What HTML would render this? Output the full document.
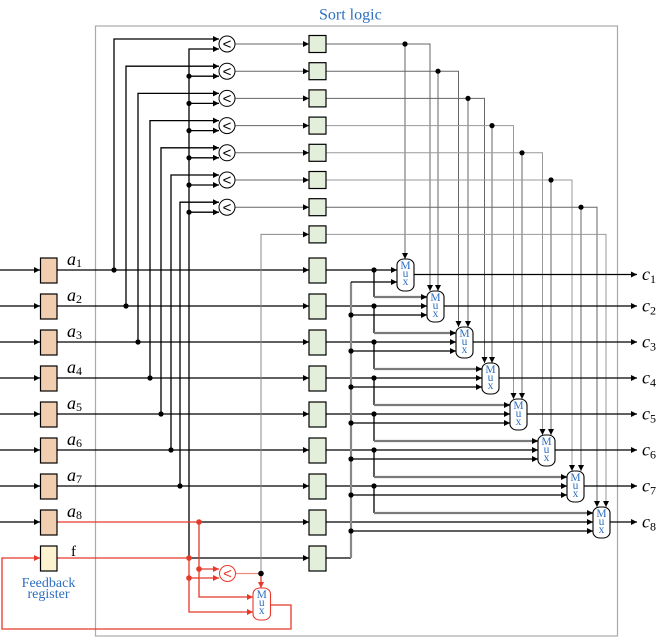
<!DOCTYPE html>
<html><head><meta charset="utf-8"><style>
html,body{margin:0;padding:0;background:#fff;}
svg{display:block;}
.bk{stroke:#000;stroke-width:1.3;fill:none;}
.gr{stroke:#666;stroke-width:1;fill:none;}
.lg{stroke:#aaa;stroke-width:1.2;fill:none;}
.gt{stroke:#7a7a7a;stroke-width:2.2;fill:none;}
.rd{stroke:#e5392a;stroke-width:1.3;fill:none;}
.rl{stroke:#f08a80;stroke-width:1.3;fill:none;}
.ob{fill:#f2ceb0;stroke:#000;stroke-width:1.2;}
.gb{fill:#e3efda;stroke:#000;stroke-width:1.2;}
.mx{fill:#fff;stroke:#000;stroke-width:1.1;}
.mt{font-family:"Liberation Serif",serif;font-size:11.5px;fill:#2e6fc0;text-anchor:middle;}
.lbl{font-family:"Liberation Serif",serif;font-style:italic;font-size:18px;fill:#000;}
.sub{font-family:"Liberation Serif",serif;font-style:normal;font-size:12px;}
.lt{font-family:"Liberation Sans",sans-serif;font-size:15px;text-anchor:middle;}
</style></head><body>
<svg width="665" height="639" viewBox="0 0 665 639" xmlns="http://www.w3.org/2000/svg">
<defs>
<marker id="ab" viewBox="0 0 6 6" refX="6" refY="3" markerWidth="6" markerHeight="6" markerUnits="userSpaceOnUse" orient="auto"><path d="M0,0L6,3L0,6z" fill="#000"/></marker>
<marker id="ar" viewBox="0 0 6 6" refX="6" refY="3" markerWidth="6" markerHeight="6" markerUnits="userSpaceOnUse" orient="auto"><path d="M0,0L6,3L0,6z" fill="#e5392a"/></marker>
</defs>

<!-- outer box -->
<rect x="95.5" y="26" width="522" height="610" fill="none" stroke="#aaa" stroke-width="1.2"/>
<text x="319" y="19.5" font-family="Liberation Serif,serif" font-size="16" fill="#2e6fc0">Sort logic</text>

<!-- input lines -->
<g class="bk" marker-end="url(#ab)">
<path d="M0,270H40"/><path d="M0,306H40"/><path d="M0,342H40"/><path d="M0,378H40"/>
<path d="M0,414H40"/><path d="M0,450H40"/><path d="M0,486H40"/><path d="M0,522H40"/>
<path d="M57,270H309"/><path d="M57,306H309"/><path d="M57,342H309"/><path d="M57,378H309"/>
<path d="M57,414H309"/><path d="M57,450H309"/><path d="M57,486H309"/>
<path d="M199,522H309"/><path d="M189,558H309"/>
</g>

<!-- left verticals to comparators -->
<g class="bk" marker-end="url(#ab)">
<path d="M114,270V39H219"/>
<path d="M126,306V66.2H219"/>
<path d="M138,342V93.4H219"/>
<path d="M150,378V120.6H219"/>
<path d="M161,414V147.8H219"/>
<path d="M171,450V175H219"/>
<path d="M180,486V202.2H219"/>
<path d="M189,558V49H219"/>
<path d="M189,76.2H219"/><path d="M189,103.4H219"/><path d="M189,130.6H219"/>
<path d="M189,157.8H219"/><path d="M189,185H219"/><path d="M189,212.2H219"/>
</g>
<g fill="#000">
<circle cx="114" cy="270" r="2.6"/><circle cx="126" cy="306" r="2.6"/><circle cx="138" cy="342" r="2.6"/>
<circle cx="150" cy="378" r="2.6"/><circle cx="161" cy="414" r="2.6"/><circle cx="171" cy="450" r="2.6"/>
<circle cx="180" cy="486" r="2.6"/>
<circle cx="189" cy="76.2" r="2.6"/><circle cx="189" cy="103.4" r="2.6"/><circle cx="189" cy="130.6" r="2.6"/>
<circle cx="189" cy="157.8" r="2.6"/><circle cx="189" cy="185" r="2.6"/><circle cx="189" cy="212.2" r="2.6"/>
</g>

<!-- comparator outputs -->
<g class="gr" marker-end="url(#ab)" stroke="#555">
<path d="M235,44H309"/><path d="M235,71.2H309"/><path d="M235,98.4H309"/><path d="M235,125.6H309"/>
<path d="M235,152.8H309"/><path d="M235,180H309"/><path d="M235,207.2H309"/>
<path d="M261,573.5V234.4H309" stroke="#888"/>
</g>

<!-- comparators -->
<g fill="#fff" stroke="#000" stroke-width="1">
<circle cx="227" cy="44" r="8"/>
<circle cx="227" cy="71.2" r="8"/>
<circle cx="227" cy="98.4" r="8"/>
<circle cx="227" cy="125.6" r="8"/>
<circle cx="227" cy="152.8" r="8"/>
<circle cx="227" cy="180" r="8"/>
<circle cx="227" cy="207.2" r="8"/>
</g>
<g class="lt" fill="#000">
<text x="227" y="49.2">&lt;</text><text x="227" y="76.4">&lt;</text><text x="227" y="103.6">&lt;</text>
<text x="227" y="130.8">&lt;</text><text x="227" y="158">&lt;</text><text x="227" y="185.2">&lt;</text>
<text x="227" y="212.4">&lt;</text>
</g>

<!-- select lines -->
<g class="gr" marker-end="url(#ab)">
<path d="M326,44H430V291"/><path d="M405,44V259"/>
<path d="M326,71.2H458.5V327"/><path d="M438,71.2V291"/>
<path d="M326,98.4H484.5V363"/><path d="M468,98.4V327"/>
<path d="M326,125.6H513.5V399" stroke="#999"/><path d="M492,125.6V363"/>
<path d="M326,152.8H542.5V435" stroke="#999"/><path d="M522,152.8V399"/>
<path d="M326,180H572V471" stroke="#999"/><path d="M551,180V435"/>
<path d="M326,207.2H597V507"/><path d="M581,207.2V471"/>
<path d="M326,234.4H606V507" stroke="#999"/>
</g>
<g fill="#000">
<circle cx="405" cy="44" r="2.6"/><circle cx="438" cy="71.2" r="2.6"/><circle cx="468" cy="98.4" r="2.6"/>
<circle cx="492" cy="125.6" r="2.6"/><circle cx="522" cy="152.8" r="2.6"/><circle cx="551" cy="180" r="2.6"/>
<circle cx="581" cy="207.2" r="2.6"/>
</g>

<!-- small green boxes -->
<g class="gb">
<rect x="309" y="35.5" width="17" height="17"/><rect x="309" y="62.7" width="17" height="17"/>
<rect x="309" y="89.9" width="17" height="17"/><rect x="309" y="117.1" width="17" height="17"/>
<rect x="309" y="144.3" width="17" height="17"/><rect x="309" y="171.5" width="17" height="17"/>
<rect x="309" y="198.7" width="17" height="17"/><rect x="309" y="225.9" width="17" height="17"/>
</g>

<!-- a lines to muxes -->
<g class="bk" marker-end="url(#ab)">
<path d="M326,270H397"/><path d="M326,306H427"/><path d="M326,342H456"/><path d="M326,378H482"/>
<path d="M326,414H510"/><path d="M326,450H538"/><path d="M326,486H567"/><path d="M326,522H593"/>
</g>
<g class="bk">
<path d="M374,270V297"/><path d="M374,306V333"/><path d="M374,342V369"/><path d="M374,378V405"/>
<path d="M374,414V441"/><path d="M374,450V477"/><path d="M374,486V513"/>
<path d="M326,558H351"/>
</g>
<g class="gt" marker-end="url(#ab)">
<path d="M374,297H427"/><path d="M374,333H456"/><path d="M374,369H482"/><path d="M374,405H510"/>
<path d="M374,441H538"/><path d="M374,477H567"/><path d="M374,513H593"/>
</g>
<path d="M351,558V282" stroke="#888" stroke-width="2.2" fill="none"/>
<g class="bk" marker-end="url(#ab)">
<path d="M351,282H397"/><path d="M351,315H427"/><path d="M351,351H456"/><path d="M351,387H482"/>
<path d="M351,423H510"/><path d="M351,459H538"/><path d="M351,495H567"/><path d="M351,531H593"/>
</g>
<g fill="#000">
<circle cx="374" cy="270" r="2.6"/><circle cx="374" cy="306" r="2.6"/><circle cx="374" cy="342" r="2.6"/>
<circle cx="374" cy="378" r="2.6"/><circle cx="374" cy="414" r="2.6"/><circle cx="374" cy="450" r="2.6"/>
<circle cx="374" cy="486" r="2.6"/>
<circle cx="351" cy="315" r="2.6"/><circle cx="351" cy="351" r="2.6"/><circle cx="351" cy="387" r="2.6"/>
<circle cx="351" cy="423" r="2.6"/><circle cx="351" cy="459" r="2.6"/><circle cx="351" cy="495" r="2.6"/>
<circle cx="351" cy="531" r="2.6"/>
</g>

<!-- outputs -->
<g class="bk" marker-end="url(#ab)">
<path d="M414,274.5H637"/><path d="M444,306H637"/><path d="M473,342H637"/><path d="M499,378H637"/>
<path d="M527,414H637"/><path d="M555,450H637"/><path d="M584,486H637"/><path d="M610,522H637"/>
</g>

<!-- muxes -->
<g class="mx">
<rect x="397" y="259" width="17" height="32" rx="7" ry="6"/>
<rect x="427" y="291" width="17" height="31" rx="7" ry="6"/>
<rect x="456" y="327" width="17" height="31" rx="7" ry="6"/>
<rect x="482" y="363" width="17" height="31" rx="7" ry="6"/>
<rect x="510" y="399" width="17" height="31" rx="7" ry="6"/>
<rect x="538" y="435" width="17" height="31" rx="7" ry="6"/>
<rect x="567" y="471" width="17" height="31" rx="7" ry="6"/>
<rect x="593" y="507" width="17" height="31" rx="7" ry="6"/>
</g>
<g class="mt">
<text x="405.5" y="269">M</text><text x="405.5" y="277">u</text><text x="405.5" y="285">x</text>
<text x="435.5" y="301">M</text><text x="435.5" y="309">u</text><text x="435.5" y="317">x</text>
<text x="464.5" y="337">M</text><text x="464.5" y="345">u</text><text x="464.5" y="353">x</text>
<text x="490.5" y="373">M</text><text x="490.5" y="381">u</text><text x="490.5" y="389">x</text>
<text x="518.5" y="409">M</text><text x="518.5" y="417">u</text><text x="518.5" y="425">x</text>
<text x="546.5" y="445">M</text><text x="546.5" y="453">u</text><text x="546.5" y="461">x</text>
<text x="575.5" y="481">M</text><text x="575.5" y="489">u</text><text x="575.5" y="497">x</text>
<text x="601.5" y="517">M</text><text x="601.5" y="525">u</text><text x="601.5" y="533">x</text>
</g>

<!-- red section -->
<g class="rd">
<path d="M57,522H199"/><path d="M57,558H189"/>
</g>
<g class="rd" marker-end="url(#ar)">
<path d="M199,522V597H253"/><path d="M199,569H219"/>
<path d="M189,558V612H253"/><path d="M189,578H219"/>
<path d="M261,573.5V588"/>
</g>
<path d="M235.5,573.5H261" class="rl"/>
<path d="M270.5,605H291V629H2V558H40" class="rd" stroke="#ee5a4c" marker-end="url(#ar)"/>
<g fill="#e5392a">
<circle cx="199" cy="522" r="2.8"/><circle cx="199" cy="569" r="2.8"/>
<circle cx="189" cy="558" r="2.8"/><circle cx="189" cy="578" r="2.8"/>
</g>
<circle cx="261" cy="573.5" r="2.8" fill="#000"/>
<circle cx="227.5" cy="573.5" r="8" fill="#fff" stroke="#e5392a" stroke-width="1"/>
<text x="227.5" y="578.7" class="lt" fill="#e5392a">&lt;</text>
<rect x="253" y="588" width="17.5" height="32" rx="7" ry="6" fill="#fff" stroke="#e5392a" stroke-width="1.1"/>
<g class="mt">
<text x="261.75" y="598">M</text><text x="261.75" y="606">u</text><text x="261.75" y="614">x</text>
</g>

<!-- big boxes -->
<g class="ob">
<rect x="40.5" y="258" width="16.5" height="25"/><rect x="40.5" y="294" width="16.5" height="25"/>
<rect x="40.5" y="330" width="16.5" height="25"/><rect x="40.5" y="366" width="16.5" height="25"/>
<rect x="40.5" y="402" width="16.5" height="25"/><rect x="40.5" y="438" width="16.5" height="25"/>
<rect x="40.5" y="474" width="16.5" height="25"/><rect x="40.5" y="510" width="16.5" height="25"/>
</g>
<rect x="40.5" y="546" width="16.5" height="25" fill="#fcf2d0" stroke="#000" stroke-width="1.2"/>
<g class="gb">
<rect x="309" y="258" width="17" height="25"/><rect x="309" y="294" width="17" height="25"/>
<rect x="309" y="330" width="17" height="25"/><rect x="309" y="366" width="17" height="25"/>
<rect x="309" y="402" width="17" height="25"/><rect x="309" y="438" width="17" height="25"/>
<rect x="309" y="474" width="17" height="25"/><rect x="309" y="510" width="17" height="25"/>
<rect x="309" y="546" width="17" height="25"/>
</g>

<!-- labels -->
<g class="lbl">
<text x="67" y="265">a<tspan class="sub" dy="2">1</tspan></text>
<text x="67" y="301">a<tspan class="sub" dy="2">2</tspan></text>
<text x="67" y="337">a<tspan class="sub" dy="2">3</tspan></text>
<text x="67" y="373">a<tspan class="sub" dy="2">4</tspan></text>
<text x="67" y="409">a<tspan class="sub" dy="2">5</tspan></text>
<text x="67" y="445">a<tspan class="sub" dy="2">6</tspan></text>
<text x="67" y="481">a<tspan class="sub" dy="2">7</tspan></text>
<text x="67" y="517">a<tspan class="sub" dy="2">8</tspan></text>
<text x="642" y="280">c<tspan class="sub" dy="3">1</tspan></text>
<text x="642" y="311.5">c<tspan class="sub" dy="3">2</tspan></text>
<text x="642" y="347.5">c<tspan class="sub" dy="3">3</tspan></text>
<text x="642" y="383.5">c<tspan class="sub" dy="3">4</tspan></text>
<text x="642" y="419.5">c<tspan class="sub" dy="3">5</tspan></text>
<text x="642" y="455.5">c<tspan class="sub" dy="3">6</tspan></text>
<text x="642" y="491.5">c<tspan class="sub" dy="3">7</tspan></text>
<text x="642" y="527.5">c<tspan class="sub" dy="3">8</tspan></text>
</g>
<text x="71" y="556" font-family="Liberation Serif,serif" font-size="15" fill="#000">f</text>
<text x="48.5" y="587" font-family="Liberation Serif,serif" font-size="14" fill="#2e6fc0" text-anchor="middle">Feedback</text>
<text x="48.5" y="598" font-family="Liberation Serif,serif" font-size="14" fill="#2e6fc0" text-anchor="middle">register</text>
</svg>
</body></html>
